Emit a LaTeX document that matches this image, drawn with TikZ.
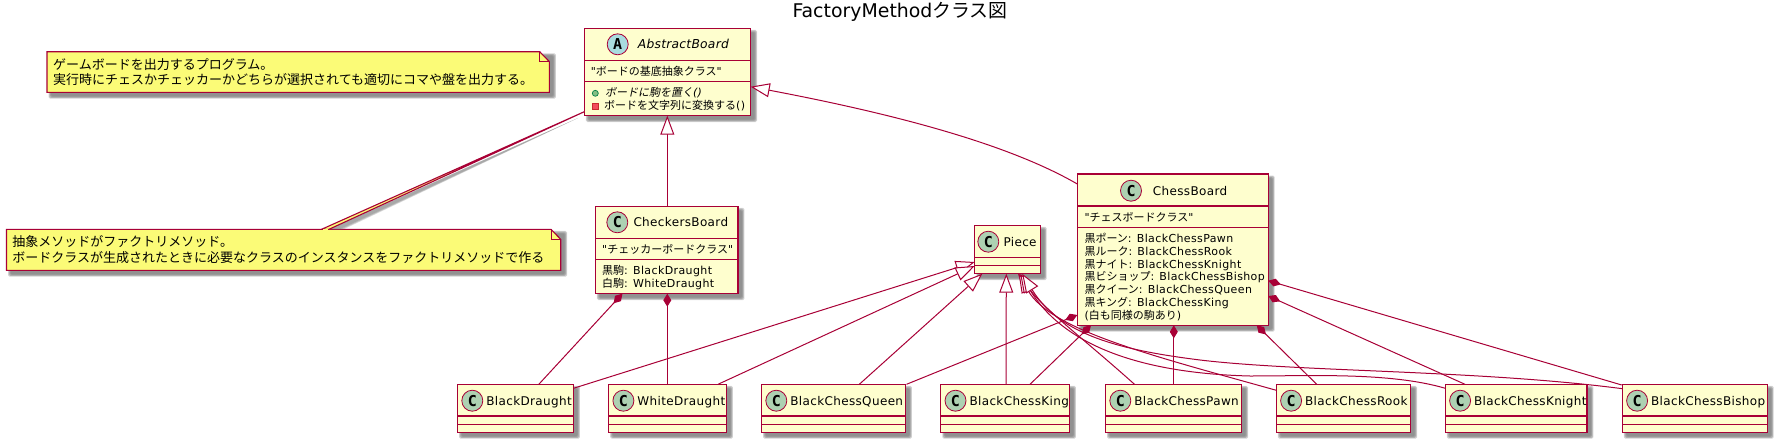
\documentclass[tikz,border=0pt]{standalone}
\usepackage{fontspec}
\setmainfont{DejaVu Sans}
\newfontfamily\jpf{Noto Sans CJK JP}
\newfontfamily\jpif[FakeSlant=0.2]{Noto Sans CJK JP}
\newfontfamily\latm[LetterSpace=3.5]{DejaVu Sans}
\newfontfamily\latn[LetterSpace=3]{DejaVu Sans}
\newfontfamily\latni[LetterSpace=2]{DejaVu Sans Oblique}
\newfontfamily\monob{DejaVu Sans Mono Bold}
\usetikzlibrary{arrows.meta,calc}
\definecolor{bord}{HTML}{A80036}
\definecolor{cfill}{HTML}{FEFECE}
\definecolor{nfill}{HTML}{FBFB77}
\definecolor{cgreen}{HTML}{ADD1B2}
\definecolor{ablue}{HTML}{A9DCDF}
\tikzset{
  klass/.style={draw=bord,fill=cfill,line width=1.5pt,rectangle,inner sep=0pt,outer sep=0pt,anchor=north west},
  sepline/.style={draw=bord,line width=1.2pt},
  badge/.style={circle,draw=bord,line width=0.8pt,minimum size=21pt,inner sep=0pt,font=\fontsize{15}{15}\selectfont\monob},
  cname/.style={inner sep=0pt,anchor=base west,font=\fontsize{12}{14}\selectfont\latn},
  cmem/.style={inner sep=0pt,anchor=base west,font=\fontsize{11}{13}\selectfont\latm},
  ntext/.style={inner sep=0pt,anchor=base west,font=\fontsize{13}{15}\selectfont\jpf},
  link/.style={draw=bord,line width=1pt},
  inh/.style={link,-{Triangle[length=19pt,width=14pt,fill=white,line width=1pt]}},
  comp/.style={link,{Diamond[length=13pt,width=8pt,fill=bord]}-},
  notepoly/.style={draw=bord,fill=nfill,line width=1.1pt,line join=miter}
}
\newcommand\jp[1]{{\jpf #1}}
\newcommand\softshadow[4]{%
  \foreach \g in {2.4,1.6,0.8,0}{%
    \fill[black!55,opacity=0.32,rounded corners=1.5pt] ({#1+4-\g},{#2+4-\g}) rectangle ({#3+4+\g},{#4+4+\g});}}
\newcommand\klassbox[5]{%
  \softshadow{#2}{#3}{#4}{#5}%
  \pgfmathsetmacro\kw{#4-#2}\pgfmathsetmacro\kh{#5-#3}%
  \node[klass,minimum width=\kw pt,minimum height=\kh pt] (#1) at (#2,#3) {};}
\newcommand\leafclass[4]{% name, x1, x2, text
  \klassbox{#1}{#2}{384.3}{#3}{432.3}%
  \draw[sepline] (#2,416) -- (#3,416);
  \draw[sepline] (#2,424.3) -- (#3,424.3);
  \node[badge,fill=cgreen] (#1-b) at ({#2+14.8},400.7) {C};
  \node[cname] (#1-t) at ({#2+28.6},405) {#4};}
\newcommand\notebox[5]{% name,x1,y1,x2,y2
  \softshadow{#2}{#3}{#4}{#5}%
  \path[notepoly] (#2,#3) -- ({#4-9.7},#3) -- (#4,{#3+10}) -- (#4,#5) -- (#2,#5) -- cycle;
  \draw[bord,line width=1pt] ({#4-9.7},#3) -- ({#4-9.7},{#3+10}) -- (#4,{#3+10});
  \pgfmathsetmacro\kw{#4-#2}\pgfmathsetmacro\kh{#5-#3}%
  \node[rectangle,inner sep=0pt,outer sep=0pt,anchor=north west,minimum width=\kw pt,minimum height=\kh pt] (#1) at (#2,#3) {};}
\begin{document}
\begin{tikzpicture}[x=1pt,y=-1pt]
\useasboundingbox (0,0) rectangle (1777,442);

\node[inner sep=0pt,anchor=base west,font=\fontsize{18.9}{20}\selectfont] (title) at (792.3,17) {FactoryMethod\jp{クラス図}};

% notes
\notebox{n1}{47}{51.7}{549.4}{92.3}
\node[ntext] (n1a) at (53,69.5) {ゲームボードを出力するプログラム。};
\node[ntext] (n1b) at (53,84.8) {実行時にチェスかチェッカーかどちらが選択されても適切にコマや盤を出力する。};
\notebox{n2}{6.5}{229.3}{560.7}{270.3}
\node[ntext] (n2a) at (12.2,246.8) {抽象メソッドがファクトリメソッド。};
\node[ntext] (n2b) at (12.2,262.2) {ボードクラスが生成されたときに必要なクラスのインスタンスをファクトリメソッドで作る};

% note connector with its shadow
\foreach \g in {2,1,0}{%
  \fill[black!55,opacity=0.28] (578,118) -- ($(n2.north)+({46-\g},0)$) -- ($(n2.north)+({56+2*\g},0)$) -- cycle;}

% abstract board
\klassbox{abs}{584.3}{28.3}{750.7}{115.7}
\draw[sepline] (584.3,60.7) -- (750.7,60.7);
\draw[sepline] (584.3,81.3) -- (750.7,81.3);
\node[badge,fill=ablue] (abs-b) at (617.7,44.3) {A};
\node[cname,font=\fontsize{12.3}{14}\selectfont\latni] (abs-t) at (637.7,48.8) {AbstractBoard};
\node[cmem] (abs-m0) at (590.7,75.7) {"\jp{ボードの基底抽象クラス}"};
\node[circle,draw={rgb,255:red,3;green,128;blue,72},fill={rgb,255:red,132;green,190;blue,132},line width=0.7pt,minimum size=6pt,inner sep=0pt] (abs-i1) at (595.3,93.3) {};
\node[cmem] (abs-m1) at (605,96.3) {{\jpif ボードに駒を置く}{\latni ()}};
\node[rectangle,draw={rgb,255:red,200;green,41;blue,48},fill={rgb,255:red,242;green,77;blue,92},line width=0.7pt,minimum size=6pt,inner sep=0pt] (abs-i2) at (595.3,106.2) {};
\node[cmem] (abs-m2) at (604,109.8) {\jp{ボードを文字列に変換する}()};

% checkers board
\klassbox{chk}{595.3}{206.3}{738}{293.7}
\draw[sepline] (595.3,238.3) -- (738,238.3);
\draw[sepline] (595.3,259.3) -- (738,259.3);
\node[badge,fill=cgreen] (chk-b) at (617.3,222.3) {C};
\node[cname] (chk-t) at (633.3,226.7) {CheckersBoard};
\node[cmem] (chk-m0) at (602,253.3) {"\jp{チェッカーボードクラス}"};
\node[cmem] (chk-m1) at (602,274) {\jp{黒駒}: BlackDraught};
\node[cmem] (chk-m2) at (602,287.3) {\jp{白駒}: WhiteDraught};

% chess board
\klassbox{chs}{1077.3}{174}{1268.3}{325.3}
\draw[sepline] (1077.3,206) -- (1268.3,206);
\draw[sepline] (1077.3,227.3) -- (1268.3,227.3);
\node[badge,fill=cgreen] (chs-b) at (1131,190.7) {C};
\node[cname] (chs-t) at (1152.7,195.2) {ChessBoard};
\node[cmem] (chs-m0) at (1084.3,221.3) {"\jp{チェスボードクラス}"};
\node[cmem] (chs-m1) at (1084.3,242.3) {\jp{黒ポーン}: BlackChessPawn};
\node[cmem] (chs-m2) at (1084.3,255) {\jp{黒ルーク}: BlackChessRook};
\node[cmem] (chs-m3) at (1084.3,268) {\jp{黒ナイト}: BlackChessKnight};
\node[cmem] (chs-m4) at (1084.3,280.3) {\jp{黒ビショップ}: BlackChessBishop};
\node[cmem] (chs-m5) at (1084.3,293.3) {\jp{黒クイーン}: BlackChessQueen};
\node[cmem] (chs-m6) at (1084.3,306.3) {\jp{黒キング}: BlackChessKing};
\node[cmem] (chs-m7) at (1084.3,319.5) {(\jp{白も同様の駒あり})};

% piece
\klassbox{pc}{974.7}{225.3}{1040.3}{273.7}
\draw[sepline] (974.7,257.3) -- (1040.3,257.3);
\draw[sepline] (974.7,265.3) -- (1040.3,265.3);
\node[badge,fill=cgreen] (pc-b) at (988.3,241.7) {C};
\node[cname] (pc-t) at (1003.3,246.2) {Piece};

% leaves
\leafclass{bd}{457.5}{573.5}{BlackDraught}
\leafclass{wd}{608.6}{726.5}{WhiteDraught}
\leafclass{bq}{761.5}{905.5}{BlackChessQueen}
\leafclass{bk}{940.7}{1069.5}{BlackChessKing}
\leafclass{bp}{1105.5}{1241.7}{BlackChessPawn}
\leafclass{br}{1276.3}{1410.7}{BlackChessRook}
\leafclass{bn}{1445.3}{1587}{BlackChessKnight}
\leafclass{bb}{1622.3}{1767.3}{BlackChessBishop}

% note connector
\path[notepoly] ($(abs.south west)+(0,-4)$) -- ($(n2.north)+(38,0)$) -- ($(n2.north)+(45.4,0)$) -- cycle;
\fill[nfill] ($(n2.north)+(39,0)$) rectangle ($(n2.north)+(44.4,1.1)$);

% inheritance
\draw[inh] ($(chk.north west)+(72,0)$) -- ($(abs.south west)+(83,0)$);
\draw[inh] ($(chs.north west)+(0,10)$) .. controls (1010,145) and (900,115) .. ($(abs.north east)+(0,58.4)$);
\draw[inh] ($(bd.north east)+(0,4)$) -- ($(pc.north west)+(0,36.7)$);
\draw[inh] ($(wd.north east)+(-8.5,0)$) -- ($(pc.north west)+(0,40.7)$);
\draw[inh] ($(bq.north west)+(97.8,0)$) -- ($(pc.south west)+(7.6,0)$);
\draw[inh] ($(bk.north west)+(65.3,0)$) -- ($(pc.south west)+(31.6,0)$);
\draw[inh] ($(bp.north west)+(29,0)$) .. controls (1085,340) and (1045,310) .. ($(pc.south west)+(43.3,0)$);
\draw[inh] ($(br.north west)+(0,6)$) .. controls (1150,355) and (1050,330) .. ($(pc.south west)+(44,0)$);
\draw[inh] ($(bn.north west)+(0,4)$) .. controls (1390,372) and (1310,376) .. (1250,376) .. controls (1130,373) and (1060,340) .. ($(pc.south west)+(45.5,0)$);
\draw[inh] ($(bb.north west)+(0,4.4)$) .. controls (1480,370) and (1300,372) .. (1200,360) .. controls (1120,350) and (1060,335) .. ($(pc.south west)+(47.5,0)$);

% composition
\draw[comp] ($(chk.south west)+(27.1,0)$) -- ($(bd.north west)+(81.3,0)$);
\draw[comp] ($(chk.south west)+(72,0)$) -- ($(wd.north west)+(58.7,0)$);
\draw[comp] ($(chs.north west)+(0,141)$) -- ($(bq.north east)+(1,0)$);
\draw[comp] ($(chs.south west)+(13.7,0)$) -- ($(bk.north west)+(89.3,0)$);
\draw[comp] ($(chs.south west)+(96.5,0)$) -- ($(bp.north west)+(68.3,0)$);
\draw[comp] ($(chs.south east)+(-11.6,0)$) -- ($(br.north west)+(40.4,0)$);
\draw[comp] ($(chs.north east)+(0,122)$) -- ($(bn.north west)+(19.7,0)$);
\draw[comp] ($(chs.north east)+(0,106.7)$) -- ($(bb.north west)+(-0.6,0.7)$);
\end{tikzpicture}
\end{document}
